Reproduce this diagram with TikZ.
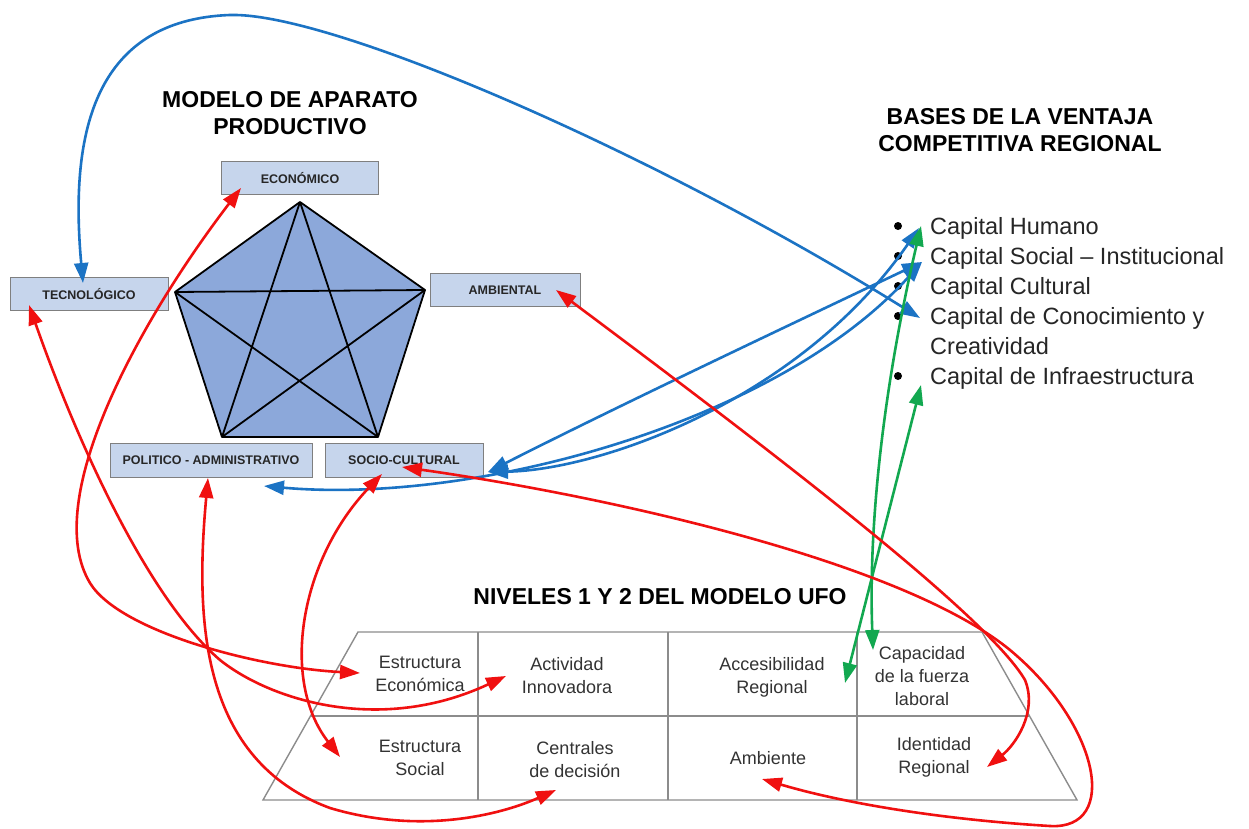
\documentclass[tikz,border=0pt]{standalone}
\usepackage{fontspec}
\setmainfont{Liberation Sans}
\usetikzlibrary{arrows.meta}
\definecolor{boxfill}{HTML}{C6D5EC}
\definecolor{boxdraw}{HTML}{7F7F7F}
\definecolor{pentfill}{HTML}{8CA8DA}
\definecolor{arrred}{HTML}{F01010}
\definecolor{arrblue}{HTML}{1B73C4}
\definecolor{arrgreen}{HTML}{12A850}
\definecolor{cellline}{HTML}{8C8C8C}
\definecolor{celltext}{HTML}{333333}
\begin{document}
\begin{tikzpicture}[x=1pt,y=-1pt,
  titletxt/.style={font=\fontsize{23}{27}\selectfont\bfseries, align=center, text=black, inner sep=0pt},
  boxlbl/.style={draw=boxdraw, fill=boxfill, line width=1pt, minimum height=33pt, inner sep=0pt,
                 font=\fontsize{12.5}{14}\selectfont\bfseries, text=black!85},
  celltxt/.style={font=\fontsize{18}{23}\selectfont, align=center, text=celltext, inner sep=0pt},
  listtxt/.style={font=\fontsize{23.5}{30}\selectfont, anchor=base west, inner sep=0pt, text=black!85},
  lnk/.style={line width=2.6pt, {Triangle[length=20pt,width=14pt]}-{Triangle[length=20pt,width=14pt]}},
  redl/.style={lnk, draw=arrred},
  bluel/.style={lnk, draw=arrblue},
  greenl/.style={lnk, draw=arrgreen}
]
\useasboundingbox[fill=white] (0,0) rectangle (1249,829);

% titles
\node[titletxt] (t1) at (290,113) {MODELO DE APARATO\\PRODUCTIVO};
\node[titletxt] (t2) at (1020,130) {BASES DE LA VENTAJA\\COMPETITIVA REGIONAL};
\node[titletxt] (t3) at (660,597) {NIVELES 1 Y 2 DEL MODELO UFO};

% pentagon
\coordinate (pT) at (300,202);
\coordinate (pL) at (175,292);
\coordinate (pR) at (425,290);
\coordinate (pBL) at (222,437);
\coordinate (pBR) at (378,437);
\draw[fill=pentfill, line width=1.8pt, line join=round] (pT)--(pR)--(pBR)--(pBL)--(pL)--cycle;
\draw[line width=1.8pt] (pT)--(pBL) (pT)--(pBR) (pL)--(pR) (pL)--(pBR) (pR)--(pBL);

% boxes
\node[boxlbl, minimum width=157pt] (eco) at (300,178) {ECONÓMICO};
\node[boxlbl, minimum width=158pt] (tec) at (89,294) {TECNOLÓGICO};
\node[boxlbl, minimum width=150pt] (amb) at (505,290) {AMBIENTAL};
\node[boxlbl, minimum width=202pt, minimum height=34pt] (pol) at (211,460) {POLITICO - ADMINISTRATIVO};
\node[boxlbl, minimum width=158pt, minimum height=34pt] (soc) at (404,460) {SOCIO-CULTURAL};

% list
\foreach \yy in {226,256,286,316,376} \fill (898,\yy) circle (4);
\node[listtxt] (cH) at (930,234) {Capital Humano};
\node[listtxt] (cS) at (930,264) {Capital Social – Institucional};
\node[listtxt] (cC) at (930,294) {Capital Cultural};
\node[listtxt] (cK) at (930,324) {Capital de Conocimiento y};
\node[listtxt] (cK2) at (930,354) {Creatividad};
\node[listtxt] (cI) at (930,384) {Capital de Infraestructura};

% table
\coordinate (tTL) at (358,632);
\coordinate (tTR) at (982,632);
\coordinate (tBL) at (263,800);
\coordinate (tBR) at (1077,800);
\coordinate (tML) at (310,716);
\coordinate (tMR) at (1029,716);
\draw[cellline, line width=1.4pt, line join=miter] (tTL)--(tTR)--(tBR)--(tBL)--cycle;
\draw[cellline, line width=1.4pt] (tML)--(tMR);
\draw[cellline, line width=1.4pt] (478,632)--(478,800) (668,632)--(668,800) (857,632)--(857,800);

\node[celltxt] (ee) at (420,674) {Estructura\\Económica};
\node[celltxt] (ai) at (567,676) {Actividad\\Innovadora};
\node[celltxt] (ar) at (772,677) {Accesibilidad\\Regional};
\node[celltxt] (cf) at (922,676) {Capacidad\\de la fuerza\\laboral};
\node[celltxt] (es) at (420,758) {Estructura\\Social};
\node[celltxt] (cd) at (575,760) {Centrales\\de decisión};
\node[celltxt] (am) at (768,758) {Ambiente};
\node[celltxt] (ir) at (934,757) {Identidad\\Regional};

% arrow end points
\coordinate (ecoA) at (241,188);
\coordinate (eeA) at (360,673);
\coordinate (tecA) at (29,305);
\coordinate (aiA) at (506,676);
\coordinate (ambA) at (556,290);
\coordinate (irA) at (987,767);
\coordinate (socA) at (402,467);
\coordinate (amA) at (762,779);
\coordinate (socB) at (382,474);
\coordinate (esA) at (340,757);
\coordinate (polA) at (208,478);
\coordinate (cdA) at (556,790);
\coordinate (chA) at (921,226);
\coordinate (cfA) at (873,650);
\coordinate (ciA) at (921,385);
\coordinate (arA) at (845,683);
\coordinate (tecB) at (83,283);
\coordinate (ckA) at (920,318);
\coordinate (socC) at (488,472);
\coordinate (csA) at (922,262);
\coordinate (chB) at (919,228);
\coordinate (polB) at (264,486);

% blue
\draw[bluel] (tecB) .. controls (70,140) and (90,20) .. (230,15) .. controls (330,12) and (650,150) .. (ckA);
\draw[bluel] (socC) .. controls (620,405) and (800,320) .. (csA);
\draw[bluel] (socC) .. controls (600,470) and (800,400) .. (chB);
\draw[bluel] (polB) .. controls (480,505) and (780,420) .. (csA);

% green
\draw[greenl] (chA) .. controls (885,380) and (868,520) .. (cfA);
\draw[greenl] (ciA) -- (arA);

% red
\draw[redl] (ecoA) .. controls (140,320) and (40,500) .. (90,583) .. controls (120,632) and (260,668) .. (eeA);
\draw[redl] (tecA) .. controls (80,450) and (150,600) .. (220,660) .. controls (270,700) and (380,735) .. (aiA);
\draw[redl] (ambA) .. controls (800,472) and (990,620) .. (1025,680) .. controls (1038,712) and (1015,745) .. (irA);
\draw[redl] (socA) .. controls (600,495) and (900,560) .. (1010,650) .. controls (1100,725) and (1120,830) .. (1050,826) .. controls (950,820) and (850,805) .. (amA);
\draw[redl] (socB) .. controls (300,560) and (280,680) .. (esA);
\draw[redl] (polA) .. controls (195,620) and (200,760) .. (330,808) .. controls (420,835) and (500,815) .. (cdA);
\end{tikzpicture}
\end{document}
